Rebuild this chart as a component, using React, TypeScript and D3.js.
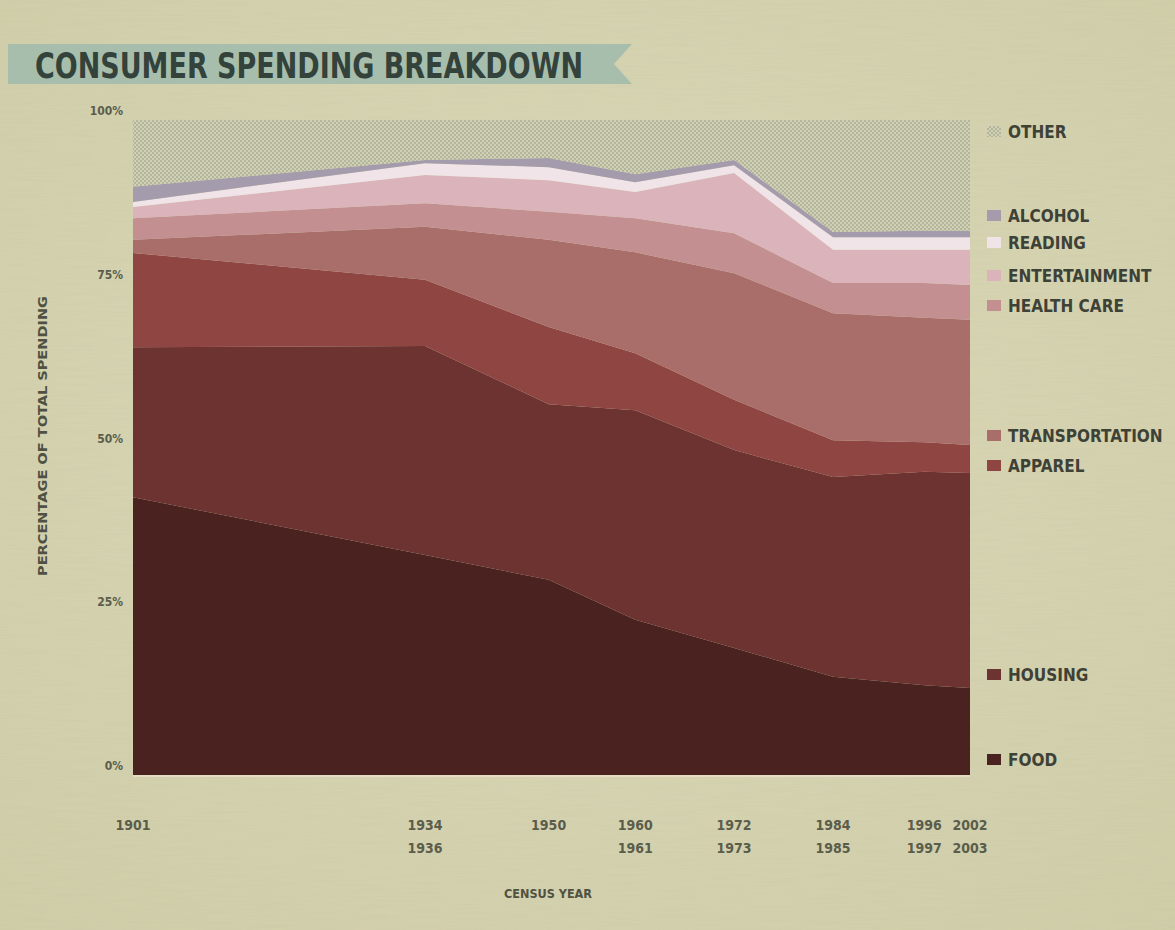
import React, { useEffect, useRef } from 'react';
import * as d3 from 'd3';

// census periods, plotted at the middle of each survey period
const years: number[] = [1901, 1935, 1950, 1960.5, 1972.5, 1984.5, 1996.5, 2002.5];
const yearLabels: string[][] = [
  ['1901'], ['1934', '1936'], ['1950'], ['1960', '1961'],
  ['1972', '1973'], ['1984', '1985'], ['1996', '1997'], ['2002', '2003'],
];

// share of total spending (%)
const food: number[] = [42.4, 33.6, 29.8, 23.7, 19.4, 15.0, 13.7, 13.3];
const housing: number[] = [22.9, 31.9, 26.8, 32.0, 30.2, 30.5, 32.6, 32.8];
const apparel: number[] = [14.4, 10.1, 11.8, 8.7, 7.7, 5.6, 4.5, 4.3];
const transportation: number[] = [2.0, 8.1, 13.3, 15.4, 19.3, 19.4, 19.0, 19.1];
const healthCare: number[] = [3.3, 3.6, 4.3, 5.2, 6.1, 4.6, 5.3, 5.3];
const entertainment: number[] = [1.7, 4.3, 4.8, 4.0, 9.2, 5.1, 5.1, 5.4];
const reading: number[] = [0.8, 1.8, 2.0, 1.5, 1.2, 1.9, 1.9, 1.9];
const alcohol: number[] = [2.3, 0.5, 1.4, 1.2, 0.8, 0.8, 1.0, 1.0];

const categories: string[] = [
  'FOOD', 'HOUSING', 'APPAREL', 'TRANSPORTATION', 'HEALTH CARE',
  'ENTERTAINMENT', 'READING', 'ALCOHOL', 'OTHER',
];
const yTicks: number[] = [0, 25, 50, 75, 100];

const colors: Record<string, string> = {
  'FOOD': '#4a2321',
  'HOUSING': '#6c3331',
  'APPAREL': '#8f4542',
  'TRANSPORTATION': '#a96e6a',
  'HEALTH CARE': '#c38f91',
  'ENTERTAINMENT': '#dab4ba',
  'READING': '#f1e4e8',
  'ALCOHOL': '#a49cad',
  'OTHER': 'url(#hatch)',
};

const FONT = "'DejaVu Sans Condensed', 'Liberation Sans Narrow', 'DejaVu Sans', sans-serif";

const App = () => {
  const ref = useRef<SVGSVGElement>(null);

  useEffect(() => {
    const svg = d3.select(ref.current);
    svg.selectAll('*').remove();

    const width = 1175;
    const height = 930;

    // x is a bit uneven in the original, so pin a few anchor years
    const x = d3.scaleLinear().domain([1901, 1935, 1984.5, 2002.5]).range([133, 425, 833, 970]);
    const y = d3.scaleLinear().domain([0, 100]).range([775, 120]);

    const rows = years.map((yr, i) => {
      const r: any = {
        year: yr,
        'FOOD': food[i],
        'HOUSING': housing[i],
        'APPAREL': apparel[i],
        'TRANSPORTATION': transportation[i],
        'HEALTH CARE': healthCare[i],
        'ENTERTAINMENT': entertainment[i],
        'READING': reading[i],
        'ALCOHOL': alcohol[i],
      };
      const sum = food[i] + housing[i] + apparel[i] + transportation[i] + healthCare[i]
        + entertainment[i] + reading[i] + alcohol[i];
      r['OTHER'] = 100 - sum;
      return r;
    });

    const defs = svg.append('defs');

    const grad = defs.append('radialGradient').attr('id', 'paperGrad')
      .attr('cx', '50%').attr('cy', '45%').attr('r', '75%');
    grad.append('stop').attr('offset', '0%').attr('stop-color', '#dcd9b9');
    grad.append('stop').attr('offset', '100%').attr('stop-color', '#cfcca8');

    const grain = defs.append('filter').attr('id', 'grain')
      .attr('x', 0).attr('y', 0).attr('width', '100%').attr('height', '100%');
    grain.append('feTurbulence').attr('type', 'fractalNoise')
      .attr('baseFrequency', '0.02 0.6').attr('numOctaves', 2).attr('seed', 3);
    grain.append('feColorMatrix').attr('type', 'matrix')
      .attr('values', '0 0 0 0 0.45  0 0 0 0 0.44  0 0 0 0 0.34  0.5 0 0 0 -0.2');

    const hatch = defs.append('pattern').attr('id', 'hatch')
      .attr('width', 4).attr('height', 4).attr('patternUnits', 'userSpaceOnUse');
    hatch.append('rect').attr('width', 4).attr('height', 4).attr('fill', '#cfd0b4');
    hatch.append('rect').attr('width', 2).attr('height', 2).attr('fill', '#b3b69c');
    hatch.append('rect').attr('x', 2).attr('y', 2).attr('width', 2).attr('height', 2).attr('fill', '#b3b69c');

    // paper background
    svg.append('rect').attr('width', width).attr('height', height).attr('fill', 'url(#paperGrad)');
    svg.append('rect').attr('width', width).attr('height', height).attr('filter', 'url(#grain)').attr('opacity', 0.35);

    // title ribbon
    svg.append('polygon')
      .attr('points', '8,44 632,44 614,64 632,84 8,84')
      .attr('fill', '#a8bead');
    svg.append('text')
      .attr('x', 35).attr('y', 78)
      .attr('font-family', FONT).attr('font-weight', 'bold').attr('font-size', 36)
      .attr('textLength', 548).attr('lengthAdjust', 'spacingAndGlyphs')
      .attr('fill', '#33423a')
      .text('CONSUMER SPENDING BREAKDOWN');

    // stacked areas
    const stacked = d3.stack<any>().keys(categories)(rows);
    const area = d3.area<any>()
      .x(d => x(d.data.year))
      .y0(d => y(d[0]))
      .y1(d => y(d[1]));

    svg.append('g').selectAll('path')
      .data(stacked)
      .enter().append('path')
      .attr('d', area)
      .attr('fill', d => colors[d.key]);

    // thin light baseline under the chart
    svg.append('line')
      .attr('x1', x(years[0])).attr('x2', x(years[years.length - 1]))
      .attr('y1', y(0) + 1).attr('y2', y(0) + 1)
      .attr('stroke', '#e6dcc4').attr('stroke-width', 2);

    // y axis labels
    svg.append('g').selectAll('text')
      .data(yTicks)
      .enter().append('text')
      .attr('x', 123).attr('y', d => y(d) - 5)
      .attr('text-anchor', 'end')
      .attr('font-family', FONT).attr('font-weight', 'bold').attr('font-size', 12)
      .attr('fill', '#5b5d4b')
      .text(d => `${d}%`);

    svg.append('text')
      .attr('transform', `translate(47,${436}) rotate(-90)`)
      .attr('text-anchor', 'middle')
      .attr('font-family', FONT).attr('font-weight', 'bold').attr('font-size', 13)
      .attr('textLength', 280).attr('lengthAdjust', 'spacingAndGlyphs')
      .attr('fill', '#4f5242')
      .text('PERCENTAGE OF TOTAL SPENDING');

    // x axis labels, two lines for survey periods
    const xl = svg.append('g').selectAll('text')
      .data(years)
      .enter().append('text')
      .attr('text-anchor', 'middle')
      .attr('font-family', FONT).attr('font-weight', 'bold').attr('font-size', 14)
      .attr('fill', '#5b5d4b');
    xl.each(function (d, i) {
      const t = d3.select(this);
      yearLabels[i].forEach((lab, j) => {
        t.append('tspan').attr('x', x(d)).attr('y', 830 + j * 23).text(lab);
      });
    });

    svg.append('text')
      .attr('x', 548).attr('y', 898)
      .attr('text-anchor', 'middle')
      .attr('font-family', FONT).attr('font-weight', 'bold').attr('font-size', 13)
      .attr('textLength', 88).attr('lengthAdjust', 'spacingAndGlyphs')
      .attr('fill', '#4f5242')
      .text('CENSUS YEAR');

    // legend on the right
    const legendY: Record<string, number> = {
      'OTHER': 132, 'ALCOHOL': 216, 'READING': 243, 'ENTERTAINMENT': 276,
      'HEALTH CARE': 306, 'TRANSPORTATION': 436, 'APPAREL': 466,
      'HOUSING': 675, 'FOOD': 760,
    };
    const leg = svg.append('g').selectAll('g')
      .data(categories)
      .enter().append('g')
      .attr('transform', d => `translate(987,${legendY[d]})`);
    leg.append('rect')
      .attr('x', 0).attr('y', -6).attr('width', 14).attr('height', 11)
      .attr('fill', d => colors[d]);
    leg.append('text')
      .attr('x', 21).attr('y', 6)
      .attr('font-family', FONT).attr('font-weight', 'bold').attr('font-size', 17)
      .attr('fill', '#3d4136')
      .text(d => d);
  }, []);

  return (
    <svg
      ref={ref}
      width={1175}
      height={930}
      style={{ position: 'absolute', left: 0, top: 0, display: 'block' }}
    />
  );
};

export default App;
